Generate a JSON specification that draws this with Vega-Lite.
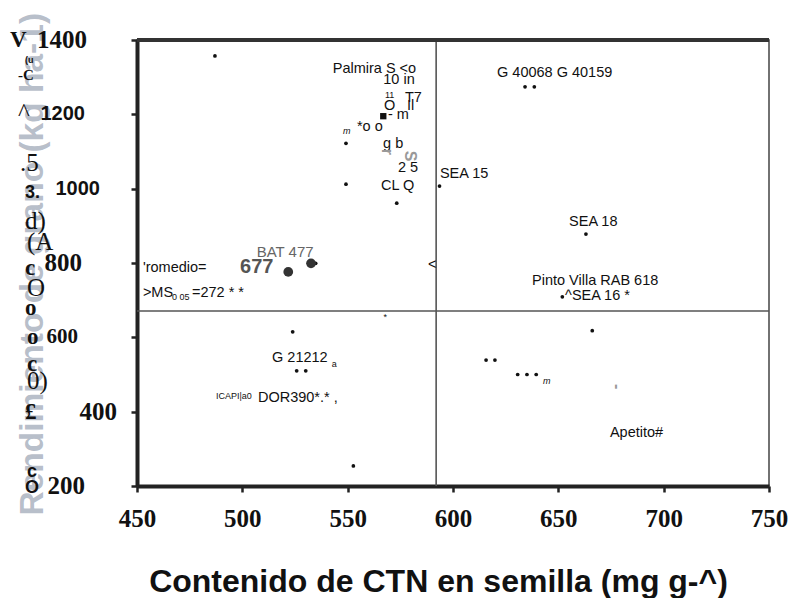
{
  "$schema": "https://vega.github.io/schema/vega-lite/v6.json",
  "width": 632,
  "height": 446,
  "autosize": {"type": "none"},
  "padding": {"left": 137, "top": 40, "right": 22, "bottom": 112},
  "background": "white",
  "config": {"view": {"stroke": "#444", "strokeWidth": 1.5}, "text": {"font": "Liberation Sans"}},
  "datasets": {
    "pts": [
      {"x": 487.0, "y": 1357}, {"x": 549.2, "y": 1122}, {"x": 549.2, "y": 1012}, {"x": 573.3, "y": 961},
      {"x": 593.6, "y": 1007}, {"x": 634.2, "y": 1274}, {"x": 638.6, "y": 1274}, {"x": 663.1, "y": 878},
      {"x": 651.9, "y": 709}, {"x": 523.9, "y": 615}, {"x": 525.8, "y": 510}, {"x": 530.1, "y": 510},
      {"x": 552.7, "y": 254}, {"x": 666.1, "y": 618}, {"x": 615.7, "y": 539}, {"x": 619.9, "y": 539},
      {"x": 630.7, "y": 500}, {"x": 635.1, "y": 500}, {"x": 639.5, "y": 500}, {"x": 534.8, "y": 799}
    ],
    "big": [{"x": 521.8, "y": 776}, {"x": 532.6, "y": 799}],
    "sq": [{"x": 566.9, "y": 1195}],
    "hline": [{"x": 450, "x2": 750, "y": 671}],
    "vline": [{"x": 592, "y": 200, "y2": 1400}],
    "top": [{"x": 450, "x2": 750, "y": 1400}],
    "yLabSerif": [
      {"x": 426.3, "y": 1400, "t": "1400"},
      {"x": 423.9, "y": 800, "t": "800"},
      {"x": 440.5, "y": 400, "t": "400"},
      {"x": 425.3, "y": 200, "t": "200"}
    ],
    "yLabSerifSmall": [{"x": 422.0, "y": 600, "t": "600"}],
    "yLabSans": [
      {"x": 425.3, "y": 1200, "t": "1200"},
      {"x": 432.4, "y": 1000, "t": "1000"}
    ],
    "lab": [
      {"x": 542.9, "y": 1321, "t": "Palmira S <o"},
      {"x": 566.9, "y": 1292, "t": "10  in"},
      {"x": 577.2, "y": 1244, "t": "T7"},
      {"x": 567.2, "y": 1222, "t": "O"},
      {"x": 578.2, "y": 1222, "t": "Il"},
      {"x": 569.1, "y": 1198, "t": "- m"},
      {"x": 554.4, "y": 1167, "t": "*o o"},
      {"x": 566.8, "y": 1120, "t": "g b"},
      {"x": 573.9, "y": 1056, "t": "2 5"},
      {"x": 565.8, "y": 1007, "t": "CL Q"},
      {"x": 593.8, "y": 1039, "t": "SEA 15"},
      {"x": 620.9, "y": 1311, "t": "G 40068 G 40159"},
      {"x": 655.1, "y": 910, "t": "SEA 18"},
      {"x": 637.5, "y": 752, "t": "Pinto Villa RAB 618"},
      {"x": 653.2, "y": 711, "t": "^SEA 16 *"},
      {"x": 452.8, "y": 787, "t": "'romedio="},
      {"x": 452.8, "y": 719, "t": ">MS"},
      {"x": 476.1, "y": 719, "t": "=272 * *"},
      {"x": 514.1, "y": 544, "t": "G 21212"},
      {"x": 507.4, "y": 437, "t": "DOR390*.* ,"},
      {"x": 674.5, "y": 342, "t": "Apetito#"},
      {"x": 588.1, "y": 795, "t": "<"}
    ],
    "tiny": [
      {"x": 567.7, "y": 1252, "t": "11"},
      {"x": 466.6, "y": 708, "t": "0 05"},
      {"x": 542.4, "y": 528, "t": "a"},
      {"x": 487.5, "y": 442, "t": "ICAPI|a0"},
      {"x": 567.0, "y": 655, "t": "*"}
    ],
    "tinyit": [
      {"x": 547.8, "y": 1155, "t": "m"},
      {"x": 642.7, "y": 483, "t": "m"}
    ],
    "gray": [{"x": 506.8, "y": 830, "t": "BAT 477"}],
    "gray677": [{"x": 498.9, "y": 789, "t": "677"}],
    "faded": [
      {"x": 568.7, "y": 1099, "t": "r"},
      {"x": 579.6, "y": 1088, "t": "S"},
      {"x": 677.8, "y": 467, "t": "-"}
    ],
    "gSerifBold": [
      {"x": 389.7, "y": 1400, "t": "V"},
      {"x": 396.8, "y": 787, "t": "c"},
      {"x": 396.8, "y": 679, "t": "o"},
      {"x": 397.8, "y": 601, "t": "o"},
      {"x": 397.8, "y": 528, "t": "c"},
      {"x": 396.8, "y": 399, "t": "£"}
    ],
    "gSerifBold15": [{"x": 393.5, "y": 1306, "t": "-C"}],
    "gSerifReg": [
      {"x": 393.5, "y": 1204, "t": "^"},
      {"x": 394.5, "y": 1069, "t": ".5"},
      {"x": 396.8, "y": 913, "t": "d)"},
      {"x": 397.8, "y": 857, "t": "(A"},
      {"x": 397.8, "y": 733, "t": "O"},
      {"x": 397.8, "y": 483, "t": "0)"}
    ],
    "gSansBold": [
      {"x": 396.8, "y": 988, "t": "3."},
      {"x": 397.8, "y": 238, "t": "c"},
      {"x": 396.8, "y": 195, "t": "O"}
    ],
    "gTiny": [{"x": 396.8, "y": 1346, "t": "(u"}]
  },
  "encoding": {
    "x": {
      "field": "x", "type": "quantitative",
      "scale": {"domain": [450, 750], "nice": false, "zero": false},
      "axis": {
        "values": [450, 500, 550, 600, 650, 700, 750], "format": "d",
        "title": "Contenido de CTN en semilla (mg g-^)",
        "titleFont": "Liberation Sans", "titleFontSize": 32, "titleFontWeight": "bold", "titleColor": "#111",
        "titleX": 301, "titleY": 95, "titleBaseline": "middle", "titleAlign": "center",
        "labelFont": "Liberation Serif", "labelFontSize": 25, "labelFontWeight": "bold", "labelColor": "#111",
        "labelPadding": 14, "tickSize": 6, "tickWidth": 2.5, "tickColor": "#222",
        "domainWidth": 4, "domainColor": "#222", "grid": false, "labelFlush": false, "labelOverlap": false
      }
    },
    "y": {
      "field": "y", "type": "quantitative",
      "scale": {"domain": [200, 1400], "nice": false, "zero": false},
      "axis": {
        "values": [200, 400, 600, 800, 1000, 1200, 1400], "labels": false,
        "title": "Rendimiento de grano (kg ha-1)",
        "titleFont": "Liberation Sans", "titleFontSize": 33.5, "titleFontWeight": "bold", "titleColor": "#7b879c",
        "titleOpacity": 0.55, "titleAngle": 270, "titleAlign": "left", "titleBaseline": "alphabetic",
        "titleX": -95, "titleY": 475,
        "tickSize": 6, "tickWidth": 2.5, "tickColor": "#222",
        "domainWidth": 4, "domainColor": "#222", "grid": false
      }
    }
  },
  "layer": [
    {"data": {"name": "hline"}, "mark": {"type": "rule", "color": "#555", "strokeWidth": 1.6}, "encoding": {"x2": {"field": "x2"}}},
    {"data": {"name": "vline"}, "mark": {"type": "rule", "color": "#555", "strokeWidth": 1.6}, "encoding": {"y2": {"field": "y2"}}},
    {"data": {"name": "top"}, "mark": {"type": "rule", "color": "#333", "strokeWidth": 4}, "encoding": {"x2": {"field": "x2"}}},
    {"data": {"name": "pts"}, "mark": {"type": "point", "filled": true, "shape": "circle", "size": 14, "color": "#111", "opacity": 1}},
    {"data": {"name": "big"}, "mark": {"type": "point", "filled": true, "shape": "circle", "size": 95, "color": "#333", "opacity": 1}},
    {"data": {"name": "sq"}, "mark": {"type": "point", "filled": true, "shape": "square", "size": 40, "color": "#111", "opacity": 1}},
    {"data": {"name": "yLabSerif"}, "mark": {"type": "text", "align": "right", "baseline": "middle", "font": "Liberation Serif", "fontSize": 25, "fontWeight": "bold", "color": "#111"}, "encoding": {"text": {"field": "t"}}},
    {"data": {"name": "yLabSerifSmall"}, "mark": {"type": "text", "align": "right", "baseline": "middle", "font": "Liberation Serif", "fontSize": 21, "fontWeight": "bold", "color": "#111"}, "encoding": {"text": {"field": "t"}}},
    {"data": {"name": "yLabSans"}, "mark": {"type": "text", "align": "right", "baseline": "middle", "font": "Liberation Sans", "fontSize": 20, "fontWeight": "bold", "color": "#111"}, "encoding": {"text": {"field": "t"}}},
    {"data": {"name": "lab"}, "mark": {"type": "text", "align": "left", "baseline": "middle", "fontSize": 14.5, "color": "#111"}, "encoding": {"text": {"field": "t"}}},
    {"data": {"name": "tiny"}, "mark": {"type": "text", "align": "left", "baseline": "middle", "fontSize": 9, "color": "#111"}, "encoding": {"text": {"field": "t"}}},
    {"data": {"name": "tinyit"}, "mark": {"type": "text", "align": "left", "baseline": "middle", "fontSize": 9, "fontStyle": "italic", "color": "#111"}, "encoding": {"text": {"field": "t"}}},
    {"data": {"name": "gray"}, "mark": {"type": "text", "align": "left", "baseline": "middle", "fontSize": 15, "color": "#666"}, "encoding": {"text": {"field": "t"}}},
    {"data": {"name": "gray677"}, "mark": {"type": "text", "align": "left", "baseline": "middle", "fontSize": 20, "fontWeight": "bold", "color": "#555"}, "encoding": {"text": {"field": "t"}}},
    {"data": {"name": "faded"}, "mark": {"type": "text", "align": "center", "baseline": "middle", "fontSize": 16, "fontWeight": "bold", "color": "#999", "angle": 90}, "encoding": {"text": {"field": "t"}}},
    {"data": {"name": "gSerifBold"}, "mark": {"type": "text", "align": "left", "baseline": "middle", "font": "Liberation Serif", "fontSize": 23, "fontWeight": "bold", "color": "#111"}, "encoding": {"text": {"field": "t"}}},
    {"data": {"name": "gSerifBold15"}, "mark": {"type": "text", "align": "left", "baseline": "middle", "font": "Liberation Serif", "fontSize": 15, "fontWeight": "bold", "color": "#111"}, "encoding": {"text": {"field": "t"}}},
    {"data": {"name": "gSerifReg"}, "mark": {"type": "text", "align": "left", "baseline": "middle", "font": "Liberation Serif", "fontSize": 25, "color": "#111"}, "encoding": {"text": {"field": "t"}}},
    {"data": {"name": "gSansBold"}, "mark": {"type": "text", "align": "left", "baseline": "middle", "fontSize": 18, "fontWeight": "bold", "color": "#111"}, "encoding": {"text": {"field": "t"}}},
    {"data": {"name": "gTiny"}, "mark": {"type": "text", "align": "left", "baseline": "middle", "fontSize": 9, "fontWeight": "bold", "color": "#111"}, "encoding": {"text": {"field": "t"}}}
  ]
}
